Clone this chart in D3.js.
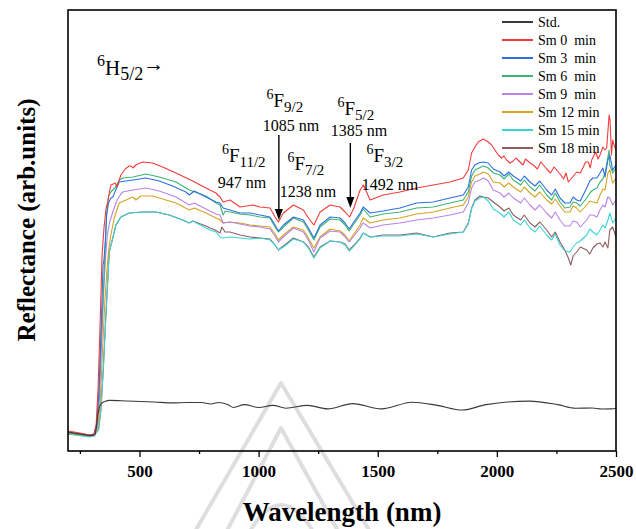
<!DOCTYPE html>
<html>
<head>
<meta charset="utf-8">
<script src="https://cdn.jsdelivr.net/npm/d3@7"></script>
<style>
  body { margin: 0; background: #fff; }
  svg { display: block; }
  text { font-family: "Liberation Serif", "Times New Roman", serif; }
</style>
</head>
<body>
<svg id="chart" width="636" height="529"></svg>
<script>
// Diffuse reflectance spectra, wavelength (nm) vs reflectance (arb. units)
const seriesNames  = ["Std.", "Sm 0  min", "Sm 3  min", "Sm 6  min", "Sm 9  min", "Sm 12 min", "Sm 15 min", "Sm 18 min"];
const seriesColors = ["#3a3a3a", "#f23c3c", "#2f70e0", "#3cb473", "#b884e8", "#d6a322", "#3ad4d8", "#8e5e5e"];

const std = [[200,1.9],[250,1.7],[292,1.55],[313,1.6],[320,2.6],[328,4.0],[338,4.7],[355,4.95],[375,5.06],[450,5.0],[560,4.9],[640,4.81],[700,4.85],[760,4.85],[800,4.7],[830,4.85],[870,4.65],[895,4.35],[940,4.64],[1000,4.35],[1060,4.56],[1115,4.28],[1205,4.56],[1290,4.21],[1395,4.74],[1515,4.21],[1645,4.88],[1750,4.56],[1855,4.1],[1955,4.64],[2135,4.99],[2255,4.64],[2330,4.28],[2400,4.3],[2440,4.2],[2480,4.21],[2500,4.25]];

const sm0 = [[200,2.0],[250,1.8],[292,1.6],[309,1.7],[318,2.6],[326,6.1],[334,12.1],[343,19.6],[351,22.3],[360,24.3],[367,24.9],[373,25.8],[380,26.6],[390,26.7],[398,26.8],[406,26.4],[415,27.1],[422,27.6],[440,28.2],[457,28.5],[465,28.5],[472,28.3],[485,28.6],[493,28.7],[514,28.9],[555,28.8],[597,28.4],[653,27.8],[723,27.0],[779,26.3],[821,25.8],[838,25.4],[851,24.9],[880,25.1],[922,24.4],[976,24.6],[1006,24.4],[1048,24.3],[1069,23.4],[1083,22.9],[1104,23.8],[1146,24.6],[1188,24.1],[1209,23.3],[1232,22.6],[1258,23.9],[1300,24.6],[1342,24.4],[1363,23.9],[1382,23.4],[1400,24.3],[1426,26.1],[1440,26.6],[1468,25.1],[1523,25.6],[1593,25.9],[1663,26.3],[1733,26.6],[1803,26.9],[1859,27.3],[1880,28.1],[1894,29.8],[1908,30.4],[1922,30.9],[1943,31.2],[1950,31.1],[1964,30.9],[1978,30.6],[1992,30.1],[2006,29.6],[2020,29.3],[2030,29.5],[2041,29.1],[2055,28.8],[2069,29.0],[2080,29.3],[2097,28.9],[2110,28.6],[2120,29.2],[2139,28.8],[2153,28.6],[2170,28.2],[2185,28.9],[2209,28.2],[2225,27.8],[2240,28.4],[2265,27.7],[2280,27.2],[2290,27.8],[2300,26.9],[2318,27.4],[2335,27.9],[2350,27.8],[2363,28.4],[2372,28.9],[2384,28.9],[2392,28.3],[2398,29.1],[2415,29.9],[2425,29.2],[2433,29.6],[2445,30.4],[2454,30.1],[2461,30.3],[2468,32.6],[2471,33.6],[2475,33.1],[2481,29.6],[2486,31.1],[2492,30.6],[2500,30.1]];

const sm3 = [[200,1.9],[292,1.6],[309,1.7],[320,2.6],[330,6.1],[339,12.1],[347,18.6],[351,19.1],[357,21.1],[362,23.6],[370,24.8],[380,25.3],[388,25.4],[397,25.9],[406,26.4],[415,26.9],[443,27.0],[472,27.1],[527,27.3],[583,27.0],[639,26.5],[695,25.9],[709,25.6],[730,26.0],[779,25.4],[821,24.9],[838,24.8],[851,24.3],[880,24.1],[922,23.8],[964,23.8],[1006,23.6],[1048,23.4],[1069,22.6],[1083,22.0],[1104,22.6],[1146,23.4],[1188,23.1],[1209,22.3],[1232,21.3],[1258,22.6],[1300,23.4],[1342,23.3],[1363,22.8],[1380,22.2],[1397,22.8],[1426,23.8],[1439,24.4],[1468,23.8],[1523,24.0],[1593,24.3],[1663,24.8],[1733,24.9],[1803,25.3],[1859,25.6],[1880,26.4],[1894,28.1],[1908,28.6],[1922,28.8],[1943,28.9],[1964,28.8],[1985,28.2],[2013,27.9],[2030,27.5],[2050,27.9],[2069,27.5],[2100,27.0],[2115,27.5],[2139,26.9],[2160,26.5],[2180,27.0],[2209,26.1],[2230,25.6],[2245,26.2],[2265,25.3],[2285,24.8],[2307,24.8],[2320,25.4],[2335,25.1],[2350,25.0],[2377,26.3],[2390,27.0],[2403,27.3],[2420,27.3],[2433,27.8],[2445,28.3],[2454,27.4],[2466,29.1],[2474,29.6],[2486,28.1],[2500,28.6]];

const sm6 = [[200,1.8],[292,1.5],[309,1.6],[320,2.4],[330,5.6],[339,11.6],[347,15.1],[355,19.6],[362,23.6],[370,25.5],[380,25.9],[388,26.1],[397,26.3],[406,26.7],[415,27.1],[430,27.3],[472,27.4],[527,27.7],[583,27.4],[653,26.9],[709,26.1],[779,25.5],[821,24.8],[838,24.6],[851,23.6],[860,24.0],[880,23.9],[922,23.7],[964,23.6],[1006,23.4],[1048,23.3],[1069,22.4],[1083,21.9],[1104,22.4],[1146,23.3],[1188,22.9],[1209,22.1],[1232,21.1],[1258,22.4],[1300,23.2],[1342,23.1],[1363,22.6],[1380,22.0],[1397,22.6],[1426,23.6],[1439,24.2],[1468,23.4],[1523,23.7],[1593,23.9],[1663,24.3],[1733,24.4],[1803,24.8],[1859,25.1],[1880,25.9],[1894,27.5],[1908,28.1],[1943,28.5],[1964,28.3],[1985,27.8],[2013,27.6],[2030,27.2],[2050,27.7],[2069,27.1],[2100,26.6],[2115,27.1],[2139,26.4],[2160,26.0],[2180,26.6],[2209,25.6],[2230,25.1],[2245,25.8],[2265,24.9],[2285,24.3],[2307,24.4],[2320,24.9],[2335,24.8],[2350,24.5],[2377,25.3],[2390,25.8],[2403,26.1],[2420,26.3],[2433,26.9],[2445,27.2],[2454,27.8],[2466,29.4],[2471,30.1],[2474,28.6],[2486,27.8],[2500,28.3]];

const sm9 = [[200,1.8],[292,1.5],[309,1.6],[322,2.3],[332,5.1],[341,10.6],[350,16.1],[357,19.1],[365,21.6],[375,22.9],[388,23.9],[406,25.1],[422,25.7],[430,25.9],[472,26.1],[527,26.3],[583,26.0],[653,25.4],[709,24.6],[730,24.8],[779,24.2],[821,23.7],[838,23.6],[851,22.8],[880,22.9],[922,22.7],[964,22.5],[1006,22.4],[1048,22.2],[1069,21.5],[1083,20.9],[1104,21.4],[1146,22.3],[1188,21.9],[1209,21.1],[1232,19.9],[1258,21.3],[1300,22.0],[1342,21.9],[1363,21.4],[1380,20.9],[1397,21.4],[1426,22.3],[1439,22.8],[1468,22.3],[1523,22.6],[1593,22.8],[1663,23.1],[1733,23.3],[1803,23.6],[1859,23.9],[1880,24.8],[1894,26.3],[1908,26.9],[1929,27.1],[1943,27.3],[1964,27.0],[1985,26.1],[2013,25.8],[2030,25.4],[2050,25.8],[2069,25.3],[2100,24.8],[2115,25.3],[2139,24.6],[2160,24.1],[2180,24.6],[2209,23.8],[2230,23.3],[2245,23.9],[2265,23.1],[2285,22.5],[2307,22.5],[2320,23.0],[2335,22.9],[2350,22.4],[2377,23.1],[2390,23.6],[2403,23.6],[2420,23.4],[2433,24.1],[2445,24.6],[2454,24.4],[2466,25.4],[2474,25.3],[2486,24.6],[2500,25.1]];

const sm12 = [[200,1.7],[292,1.5],[309,1.6],[325,2.3],[335,4.6],[345,10.1],[355,15.1],[365,18.6],[373,20.6],[380,21.6],[394,23.3],[415,24.8],[443,25.1],[472,25.4],[485,25.1],[506,25.5],[555,25.5],[597,25.2],[653,24.8],[709,24.1],[730,24.3],[779,23.8],[821,23.3],[838,23.1],[851,22.8],[880,22.9],[922,22.8],[964,22.6],[1006,22.5],[1048,22.4],[1069,21.7],[1083,21.1],[1104,21.6],[1146,22.4],[1188,22.1],[1209,21.3],[1232,20.3],[1258,21.4],[1300,22.2],[1342,22.0],[1363,21.6],[1380,21.0],[1397,21.6],[1426,22.6],[1439,23.3],[1468,22.8],[1523,23.1],[1593,23.3],[1663,23.7],[1733,23.9],[1803,24.3],[1859,24.6],[1880,25.4],[1894,26.9],[1908,27.5],[1929,27.7],[1943,27.9],[1964,27.7],[1985,26.9],[2013,26.8],[2030,26.4],[2050,26.8],[2069,26.4],[2100,25.9],[2115,26.4],[2139,25.8],[2160,25.4],[2180,25.9],[2209,25.1],[2230,24.7],[2245,25.2],[2265,24.5],[2285,23.9],[2307,23.9],[2320,24.5],[2335,24.3],[2350,23.9],[2377,24.6],[2390,25.0],[2403,24.9],[2420,24.8],[2433,25.6],[2445,26.2],[2454,26.1],[2466,27.8],[2474,28.1],[2486,26.8],[2500,27.3]];

const sm15 = [[200,1.7],[292,1.4],[309,1.5],[328,2.1],[338,4.1],[348,8.1],[358,13.1],[367,17.1],[373,19.9],[388,21.3],[401,22.6],[422,23.4],[457,23.8],[514,23.9],[569,23.9],[625,23.6],[681,23.1],[709,22.8],[723,23.0],[779,22.3],[796,22.1],[821,21.9],[838,21.4],[851,21.3],[880,21.4],[922,21.3],[964,21.2],[1006,21.3],[1048,21.1],[1069,20.6],[1083,20.1],[1104,20.4],[1146,21.2],[1188,20.9],[1209,20.3],[1232,19.3],[1258,20.3],[1300,21.0],[1342,20.9],[1363,20.6],[1380,20.0],[1397,20.4],[1426,21.2],[1439,21.8],[1468,21.4],[1523,21.5],[1593,21.5],[1663,21.7],[1733,21.4],[1803,21.7],[1859,21.9],[1880,22.7],[1894,24.2],[1908,25.0],[1929,25.3],[1943,25.4],[1964,25.0],[1985,24.2],[2013,23.8],[2030,23.4],[2050,23.9],[2069,23.1],[2100,22.6],[2115,23.1],[2139,22.3],[2160,21.9],[2180,22.5],[2209,21.6],[2230,21.1],[2245,21.7],[2265,20.6],[2285,20.0],[2307,19.9],[2320,20.4],[2335,20.8],[2350,21.0],[2377,21.6],[2390,22.2],[2403,21.9],[2420,21.6],[2433,22.1],[2445,22.6],[2454,22.3],[2466,23.1],[2474,23.8],[2486,22.8],[2500,23.3]];

const sm18 = [[200,1.7],[292,1.5],[309,1.6],[328,2.1],[338,4.1],[348,8.1],[358,13.1],[367,17.1],[373,19.9],[388,21.3],[401,22.6],[422,23.4],[457,23.8],[514,23.9],[569,23.9],[625,23.6],[681,23.1],[709,22.8],[723,23.0],[779,22.5],[796,22.3],[817,22.1],[838,21.8],[846,22.4],[859,21.9],[880,21.9],[922,21.6],[964,21.4],[1006,21.3],[1048,21.2],[1069,20.6],[1083,20.1],[1104,20.5],[1146,21.3],[1188,20.9],[1209,20.4],[1232,19.4],[1258,20.4],[1300,21.0],[1342,20.9],[1363,20.7],[1380,20.1],[1397,20.5],[1426,21.3],[1439,21.8],[1468,21.4],[1523,21.6],[1593,21.6],[1663,21.8],[1733,21.4],[1803,21.8],[1859,21.9],[1880,22.8],[1894,24.3],[1908,25.1],[1929,25.5],[1943,25.4],[1964,25.3],[1985,24.9],[2013,24.4],[2030,24.0],[2050,24.3],[2069,23.6],[2100,23.1],[2115,23.6],[2139,22.8],[2160,22.4],[2180,22.9],[2209,22.1],[2230,21.4],[2245,21.9],[2265,20.9],[2285,20.1],[2300,19.3],[2310,18.6],[2320,19.5],[2335,19.9],[2350,20.4],[2377,20.1],[2390,19.7],[2403,20.3],[2420,20.7],[2433,20.8],[2445,20.4],[2454,20.9],[2466,20.3],[2474,22.1],[2486,22.4],[2500,21.4]];

const seriesData = [std, sm0, sm3, sm6, sm9, sm12, sm15, sm18];

const xTicks = [500, 1000, 1500, 2000, 2500];
const xMinorTicks = [250, 750, 1250, 1750, 2250];

// Sm3+ transitions from the 6H5/2 ground state, with label anchors in data units
const transitions = [
  { sub: "11/2", nm: 947,  labelX: 846,  labelY: 28.9, nmX: 930,  nmY: 26.3 },
  { sub: "9/2",  nm: 1085, labelX: 1033, labelY: 34.4, nmX: 1136, nmY: 32.0, arrow: [31.6, 23.1] },
  { sub: "7/2",  nm: 1238, labelX: 1121, labelY: 28.1, nmX: 1207, nmY: 25.4 },
  { sub: "5/2",  nm: 1385, labelX: 1331, labelY: 33.6, nmX: 1421, nmY: 31.5, arrow: [30.8, 24.3] },
  { sub: "3/2",  nm: 1492, labelX: 1453, labelY: 28.9, nmX: 1551, nmY: 26.1 }
];

const W = 636, H = 529;
const margin = { top: 10, right: 20, bottom: 78, left: 68 };
const svg = d3.select("#chart");

const x = d3.scaleLinear().domain([200, 2500]).range([margin.left, W - margin.right]);
const y = d3.scaleLinear().domain([0, 44.1]).range([H - margin.bottom, margin.top]);

// faint emblem in the background
const wm = svg.append("g").attr("fill", "none").attr("stroke", "#dedede").attr("stroke-width", 4)
  .attr("stroke-linejoin", "round");
wm.append("path").attr("d", "M190,540 L281,383 L375,540");
wm.append("path").attr("d", "M222,540 L281,428 L343,540");
wm.append("path").attr("d", "M245,540 Q281,470 318,540");

svg.append("clipPath").attr("id", "plot-clip")
  .append("rect")
  .attr("x", margin.left).attr("y", margin.top)
  .attr("width", W - margin.left - margin.right)
  .attr("height", H - margin.top - margin.bottom);

const line = d3.line().x(d => x(d[0])).y(d => y(d[1]));
const smoothLine = d3.line().x(d => x(d[0])).y(d => y(d[1])).curve(d3.curveMonotoneX);

const curves = svg.append("g").attr("clip-path", "url(#plot-clip)");
// draw from the last series to the first so the upper traces sit on top
d3.range(seriesData.length - 1, -1, -1).forEach(i => {
  curves.append("path")
    .datum(d3.sort(seriesData[i], d => d[0]))
    .attr("fill", "none")
    .attr("stroke", seriesColors[i])
    .attr("stroke-width", 1.1)
    .attr("stroke-linejoin", "round")
    .attr("d", i === 0 ? smoothLine : line);
});

// x axis: major and minor ticks
const xAxisMinor = d3.axisBottom(x).tickValues(xMinorTicks).tickSize(3).tickFormat("");
svg.append("g").attr("transform", `translate(0,${H - margin.bottom})`).call(xAxisMinor)
  .call(g => g.select(".domain").remove())
  .call(g => g.selectAll("line").attr("stroke", "#000").attr("stroke-width", 1.3));

const xAxis = d3.axisBottom(x).tickValues(xTicks).tickSize(6).tickPadding(8).tickFormat(d3.format("d"));
svg.append("g").attr("transform", `translate(0,${H - margin.bottom})`).call(xAxis)
  .call(g => g.select(".domain").remove())
  .call(g => g.selectAll("line").attr("stroke", "#000").attr("stroke-width", 1.3))
  .call(g => g.selectAll("text")
    .attr("fill", "#000")
    .style("font-family", "'Liberation Serif', 'Times New Roman', serif")
    .style("font-size", "17px")
    .style("font-weight", "bold"));

// frame
svg.append("rect")
  .attr("x", margin.left).attr("y", margin.top)
  .attr("width", W - margin.left - margin.right)
  .attr("height", H - margin.top - margin.bottom)
  .attr("fill", "none").attr("stroke", "#000").attr("stroke-width", 1.6);

// axis titles
svg.append("text")
  .attr("x", (margin.left + W - margin.right) / 2).attr("y", 521)
  .attr("text-anchor", "middle")
  .style("font-size", "27px").style("font-weight", "bold")
  .text("Wavelength (nm)");

svg.append("text")
  .attr("transform", "translate(35,220) rotate(-90)")
  .attr("text-anchor", "middle")
  .style("font-size", "25px").style("font-weight", "bold")
  .text("Reflectance (arb.units)");

// ground-state label
const ground = svg.append("text").attr("x", x(322)).attr("y", y(37.6)).attr("fill", "#000");
ground.append("tspan").style("font-size", "16px").attr("dy", -9).text("6");
ground.append("tspan").style("font-size", "21px").attr("dy", 9).text("H");
ground.append("tspan").style("font-size", "18px").attr("dy", 5).text("5/2");
ground.append("tspan").style("font-size", "21px").attr("dy", -9).text("→");

// excited-state labels and wavelengths
transitions.forEach(t => {
  const lab = svg.append("text").attr("x", x(t.labelX)).attr("y", y(t.labelY)).attr("fill", "#000");
  lab.append("tspan").style("font-size", "14px").attr("dy", -8).text("6");
  lab.append("tspan").style("font-size", "19px").attr("dy", 8).text("F");
  lab.append("tspan").style("font-size", "15px").attr("dy", 5).text(t.sub);

  svg.append("text")
    .attr("x", x(t.nmX)).attr("y", y(t.nmY))
    .attr("text-anchor", "middle")
    .style("font-size", "16px")
    .text(`${t.nm} nm`);

  if (t.arrow) {
    const ax = x(t.nm), y0 = y(t.arrow[0]), y1 = y(t.arrow[1]);
    svg.append("line").attr("x1", ax).attr("x2", ax).attr("y1", y0).attr("y2", y1 - 8)
      .attr("stroke", "#000").attr("stroke-width", 1.4);
    svg.append("path")
      .attr("d", `M${ax - 4},${y1 - 11} L${ax + 4},${y1 - 11} L${ax},${y1} Z`)
      .attr("fill", "#000");
  }
});

// legend
const legend = svg.append("g");
seriesNames.forEach((name, i) => {
  const cy = 22 + i * 18;
  legend.append("line")
    .attr("x1", 502).attr("x2", 533).attr("y1", cy).attr("y2", cy)
    .attr("stroke", seriesColors[i]).attr("stroke-width", 2);
  legend.append("text")
    .attr("x", 538).attr("y", cy + 5)
    .style("font-size", "14px")
    .style("white-space", "pre")
    .text(name);
});
</script>
</body>
</html>
